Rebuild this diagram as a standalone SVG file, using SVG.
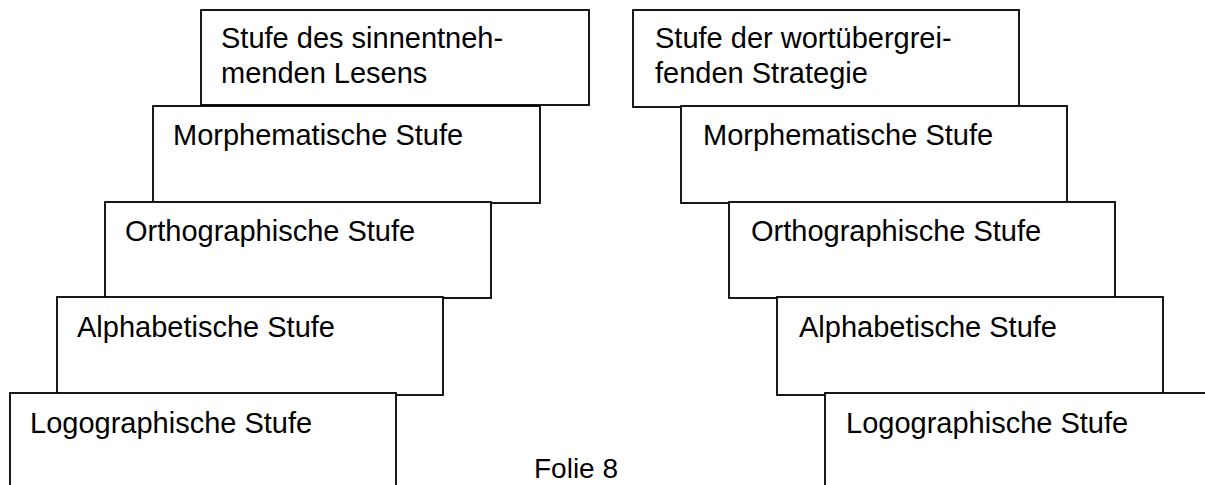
<svg xmlns="http://www.w3.org/2000/svg" width="1205" height="485" viewBox="0 0 1205 485">
<style>
.box{fill:#fff;stroke:#000;stroke-width:1.8}
.t{font-family:"Liberation Sans",Arial,sans-serif;font-size:29px;fill:#000}
</style>
<rect width="1205" height="485" fill="#fff"/>
<g id="connectors"></g>
<g id="left-stufe-lesens"><rect class="box" x="201" y="10" width="388" height="95"/><text class="t" x="221" y="48">Stufe des sinnentneh-</text><text class="t" x="221" y="83">menden Lesens</text></g>
<g id="left-morphematisch"><rect class="box" x="153" y="106" width="387" height="97"/><text class="t" x="173" y="145">Morphematische Stufe</text></g>
<g id="left-orthographisch"><rect class="box" x="105" y="202" width="386" height="96"/><text class="t" x="125" y="241">Orthographische Stufe</text></g>
<g id="left-alphabetisch"><rect class="box" x="57" y="297" width="386" height="98"/><text class="t" x="77" y="337">Alphabetische Stufe</text></g>
<g id="left-logographisch"><rect class="box" x="10" y="393" width="386" height="120"/><text class="t" x="30" y="433">Logographische Stufe</text></g>
<g id="right-stufe-strategie"><rect class="box" x="633" y="10" width="386" height="97"/><text class="t" x="655" y="48">Stufe der wortübergrei-</text><text class="t" x="655" y="83">fenden Strategie</text></g>
<g id="right-morphematisch"><rect class="box" x="681" y="106" width="386" height="97"/><text class="t" x="703" y="145">Morphematische Stufe</text></g>
<g id="right-orthographisch"><rect class="box" x="729" y="202" width="386" height="96"/><text class="t" x="751" y="241">Orthographische Stufe</text></g>
<g id="right-alphabetisch"><rect class="box" x="777" y="297" width="386" height="98"/><text class="t" x="799" y="337">Alphabetische Stufe</text></g>
<g id="right-logographisch"><rect class="box" x="825" y="393" width="386" height="120"/><text class="t" x="846" y="433">Logographische Stufe</text></g>
<text id="folie" class="t" x="534" y="478" style="font-size:28px">Folie 8</text>
</svg>
